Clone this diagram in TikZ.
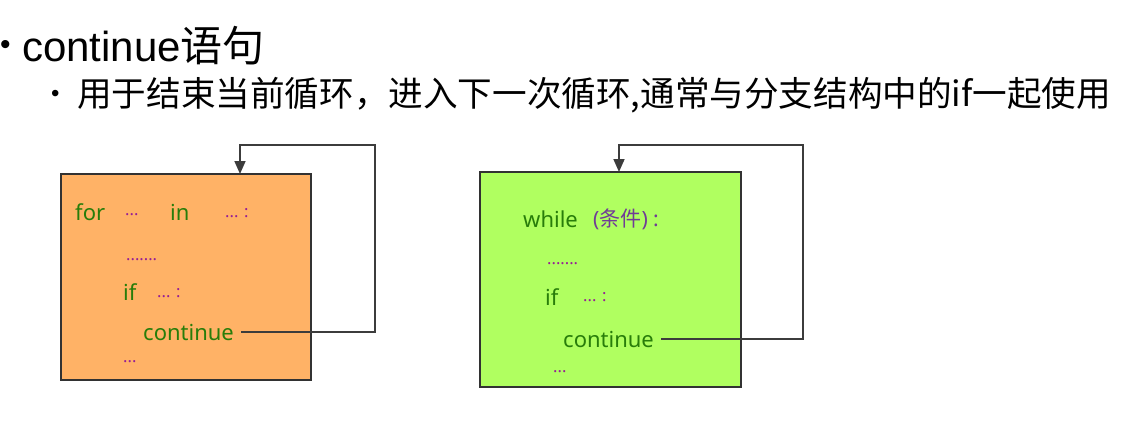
\documentclass[tikz,border=0pt]{standalone}
\usepackage{fontspec}
\setmainfont{Liberation Sans}
\newfontfamily\cjk{Noto Sans CJK SC}
\newfontfamily\noto{Noto Sans}
\usetikzlibrary{arrows.meta}
\definecolor{boxorange}{RGB}{255,178,102}
\definecolor{boxgreen}{RGB}{176,255,96}
\definecolor{codegreen}{RGB}{40,125,10}
\definecolor{dotpurple}{RGB}{150,30,150}
\definecolor{condpurple}{RGB}{112,60,150}
\definecolor{edge}{RGB}{50,50,50}
\definecolor{wire}{RGB}{60,60,60}
\begin{document}
\begin{tikzpicture}[x=1pt,y=-1pt,
  loopbox/.style={draw=edge,line width=2pt,minimum width=#1,inner sep=0pt},
  kw/.style={anchor=west,inner sep=0pt,text=codegreen,font=\noto\fontsize{22}{26}\selectfont},
  dots/.style={anchor=west,inner sep=0pt,text=dotpurple,font=\noto\fontsize{16.5}{20}\selectfont},
  cont/.style={kw,inner xsep=7pt},
  wireline/.style={draw=wire,line width=1.7pt},
  arr/.style={wireline,-{Triangle[length=13pt,width=11pt]}},
  title/.style={anchor=west,inner sep=0pt,font=\fontsize{42}{48}\selectfont},
  sub/.style={anchor=west,inner sep=0pt,font=\cjk\fontsize{34.6}{40}\selectfont}]
\useasboundingbox (0,0) rectangle (1123,428);
% headings
\node[anchor=west,inner sep=0pt,font=\fontsize{30}{34}\selectfont] (b1) at (0,47) {•};
\node[title] (t) at (22,46) {continue{\cjk 语句}};
\node[anchor=west,inner sep=0pt,font=\fontsize{24}{28}\selectfont] (b2) at (51,96) {•};
\node[sub] (s) at (77,95) {用于结束当前循环，进入下一次循环,通常与分支结构中的if一起使用};
% left box
\node[loopbox=250pt,minimum height=206pt,fill=boxorange] (box1) at (186,277) {};
\node[kw] (for) at (75,212) {for};
\node[dots] (d1) at (125,215) {...};
\node[kw] (in) at (170,212) {in};
\node[dots] (d2) at (225,213) {... :};
\node[dots] (d3) at (126,260) {.......};
\node[kw] (if1) at (123,292) {if};
\node[dots] (d4) at (157,293) {... :};
\node[cont] (c1) at (136,332) {continue};
\node[dots] (d5) at (123,362) {...};
\coordinate (r1) at (375,145);
\coordinate (e1) at (240,174);
\draw[arr] (c1.east) -| (r1) -| (e1);
% right box
\node[loopbox=261pt,minimum height=215pt,fill=boxgreen] (box2) at (610.5,279.5) {};
\node[kw] (wh) at (523,219) {while};
\node[anchor=west,inner sep=0pt,text=condpurple,font=\noto\fontsize{21}{26}\selectfont] (cond) at (593,219) {({\cjk 条件}) :};
\node[dots] (d6) at (547,264) {.......};
\node[kw] (if2) at (545,297) {if};
\node[dots] (d7) at (583,297) {... :};
\node[cont] (c2) at (556,339) {continue};
\node[dots] (d8) at (553,372) {...};
\coordinate (r2) at (803,145);
\coordinate (e2) at (619,172);
\draw[arr] (c2.east) -| (r2) -| (e2);
\end{tikzpicture}
\end{document}
